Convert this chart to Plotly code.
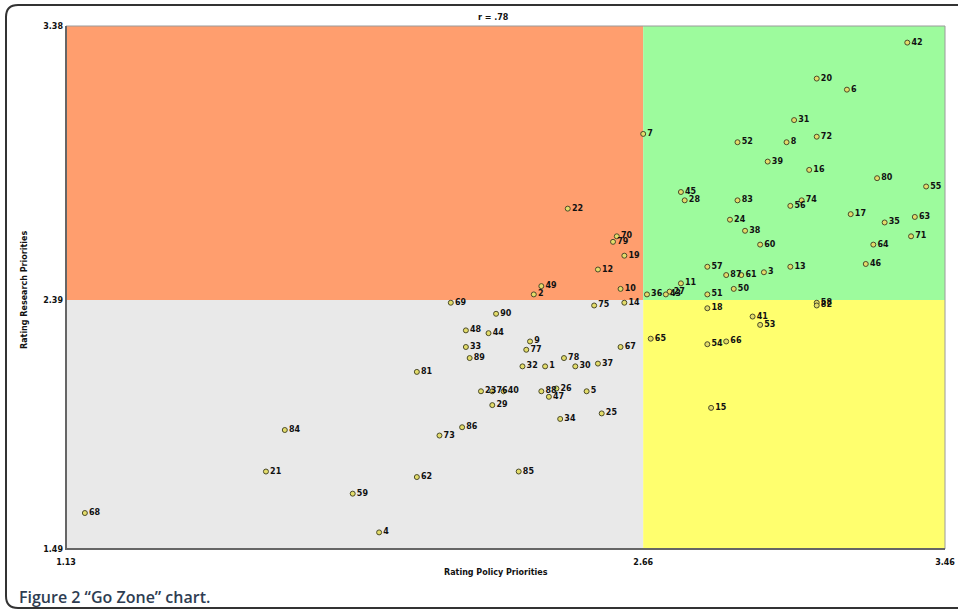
import plotly.graph_objects as go

# ---------------- data ----------------
statement_ids = list(range(1, 91))
policy_rating = [
    2.40, 2.37, 2.98, 1.96, 2.51, 3.20, 2.66, 3.04, 2.36, 2.60,
    2.76, 2.54, 3.05, 2.61, 2.84, 3.10, 3.21, 2.83, 2.61, 3.12,
    1.66, 2.46, 2.23, 2.89, 2.55, 2.43, 2.73, 2.77, 2.26, 2.48,
    3.06, 2.34, 2.19, 2.44, 3.30, 2.67, 2.54, 2.93, 2.99, 2.29,
    2.95, 3.36, 2.72, 2.25, 2.76, 3.25, 2.41, 2.19, 2.39, 2.90,
    2.83, 2.91, 2.97, 2.83, 3.41, 3.05, 2.83, 3.12, 1.89, 2.97,
    2.92, 2.06, 3.38, 3.27, 2.68, 2.88, 2.60, 1.18, 2.15, 2.59,
    3.37, 3.12, 2.12, 3.08, 2.53, 2.26, 2.35, 2.45, 2.58, 3.28,
    2.06, 3.12, 2.91, 1.71, 2.33, 2.18, 2.88, 2.39, 2.20, 2.27,
]
research_rating = [
    2.15, 2.41, 2.49, 1.55, 2.06, 3.15, 2.99, 2.96, 2.24, 2.43,
    2.45, 2.50, 2.51, 2.38, 2.00, 2.86, 2.70, 2.36, 2.55, 3.19,
    1.77, 2.72, 2.06, 2.68, 1.98, 2.07, 2.42, 2.75, 2.01, 2.15,
    3.04, 2.15, 2.22, 1.96, 2.67, 2.41, 2.16, 2.64, 2.89, 2.06,
    2.33, 3.32, 2.41, 2.27, 2.78, 2.52, 2.04, 2.28, 2.44, 2.43,
    2.41, 2.96, 2.30, 2.23, 2.80, 2.73, 2.51, 2.38, 1.69, 2.59,
    2.48, 1.75, 2.69, 2.59, 2.25, 2.24, 2.22, 1.62, 2.38, 2.62,
    2.62, 2.98, 1.90, 2.75, 2.37, 2.06, 2.21, 2.18, 2.60, 2.83,
    2.13, 2.37, 2.75, 1.92, 1.77, 1.93, 2.48, 2.06, 2.18, 2.34,
]

x_min, x_mean, x_max = 1.13, 2.66, 3.46
y_min, y_mean, y_max = 1.49, 2.39, 3.38
x_tick_labels = ["1.13", "2.66", "3.46"]
y_tick_labels = ["1.49", "2.39", "3.38"]
correlation_text = "r = .78"

# ---------------- figure ----------------
W, H = 958, 611
L, R, T, B = 66, 13, 26, 62
pw, ph = W - L - R, H - T - B


def px_x(p):
    return (p - L) / pw


def px_y(p):
    return (H - B - p) / ph


fig = go.Figure()

fig.add_trace(go.Scatter(
    x=policy_rating, y=research_rating,
    mode="markers+text",
    text=[str(i) for i in statement_ids],
    textposition="middle right",
    textfont=dict(family="DejaVu Sans", size=8, color="#111111", weight="bold"),
    marker=dict(size=5, color="#e3dc6a", line=dict(color="#4a4a2a", width=1)),
    cliponaxis=False,
    hoverinfo="x+y+text",
    showlegend=False,
))

quads = [
    (x_min, x_mean, y_mean, y_max, "#ff9e6e"),
    (x_mean, x_max, y_mean, y_max, "#9dfb9d"),
    (x_min, x_mean, y_min, y_mean, "#e9e9e9"),
    (x_mean, x_max, y_min, y_mean, "#ffff6e"),
]
for x0, x1, y0, y1, c in quads:
    fig.add_shape(type="rect", xref="x", yref="y", x0=x0, x1=x1, y0=y0, y1=y1,
                  fillcolor=c, line=dict(width=0), layer="below")

# plot frame
fig.add_shape(type="rect", xref="paper", yref="paper", x0=0, x1=1, y0=0, y1=1,
              line=dict(color="#9a9a9a", width=1), layer="above")
fig.add_shape(type="path", xref="paper", yref="paper",
              path=f"M {px_x(66)},{px_y(26)} L {px_x(66)},{px_y(549)} L {px_x(945)},{px_y(549)}",
              line=dict(color="#666666", width=2), layer="above")

# rounded outer frame
lx, rx, ty, by, rr = 6, 975, 5, 608, 12
path = (f"M {px_x(lx + rr)},{px_y(ty)} L {px_x(rx)},{px_y(ty)} "
        f"M {px_x(rx)},{px_y(by)} L {px_x(lx + rr)},{px_y(by)} "
        f"Q {px_x(lx)},{px_y(by)} {px_x(lx)},{px_y(by - rr)} "
        f"L {px_x(lx)},{px_y(ty + rr)} Q {px_x(lx)},{px_y(ty)} {px_x(lx + rr)},{px_y(ty)}")
fig.add_shape(type="path", xref="paper", yref="paper", path=path,
              line=dict(color="#333333", width=2))

tickfont = dict(family="DejaVu Sans", size=8, color="#111111", weight="bold")
fig.update_xaxes(range=[x_min, x_max], tickvals=[x_min, x_mean, x_max],
                 ticktext=x_tick_labels, showgrid=False, zeroline=False,
                 ticks="", tickfont=tickfont, showline=False,
                 automargin=False, ticklabelstandoff=7)
fig.update_yaxes(range=[y_min, y_max], tickvals=[y_min, y_mean, y_max],
                 ticktext=y_tick_labels, showgrid=False, zeroline=False,
                 ticks="", tickfont=tickfont, showline=False,
                 automargin=False, ticklabelstandoff=2)

ann_font = dict(family="DejaVu Sans", size=8, color="#111111", weight="bold")
fig.add_annotation(xref="paper", yref="paper", x=px_x(493), y=px_y(18),
                   xanchor="center", yanchor="middle",
                   text=correlation_text, showarrow=False, font=ann_font)
fig.add_annotation(xref="paper", yref="paper", x=px_x(496), y=px_y(572),
                   xanchor="center", yanchor="middle",
                   text="Rating Policy Priorities", showarrow=False, font=ann_font)
fig.add_annotation(xref="paper", yref="paper", x=px_x(24), y=px_y(290),
                   xanchor="center", yanchor="middle",
                   text="Rating Research Priorities", showarrow=False,
                   textangle=-90, font=ann_font)
fig.add_annotation(xref="paper", yref="paper", x=px_x(17), y=px_y(597),
                   xanchor="left", yanchor="middle",
                   text="Figure 2 \u201cGo Zone\u201d chart.", showarrow=False,
                   font=dict(family="Open Sans", size=16, color="#2e3d52", weight=600))

fig.update_layout(
    width=W, height=H,
    margin=dict(l=L, r=R, t=T, b=B, autoexpand=False),
    paper_bgcolor="white", plot_bgcolor="white",
)

fig.write_html(
    "out.html",
    config={"displayModeBar": False},
    post_script=("document.body.style.margin='0';"
                 "document.body.style.overflow='hidden';"
                 "document.documentElement.style.overflow='hidden';"),
)
